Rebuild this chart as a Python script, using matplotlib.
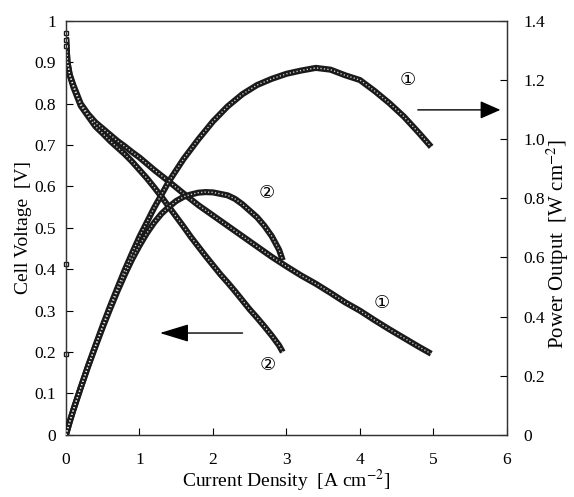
import matplotlib
matplotlib.use("Agg")
import matplotlib.pyplot as plt

plt.rcParams['font.family'] = ['Liberation Serif', 'DejaVu Sans']
plt.rcParams['mathtext.fontset'] = 'stix'

# --- данные ---
current_1 = [0, 0.02, 0.05, 0.1, 0.2, 0.3, 0.4, 0.5, 0.6, 0.7, 0.8, 0.9, 1.0, 1.2, 1.4, 1.6,
             1.8, 2.0, 2.2, 2.4, 2.6, 2.8, 3.0, 3.2, 3.4, 3.6, 3.8, 4.0, 4.2, 4.4, 4.6, 4.8, 4.97]
voltage_1 = [0.96, 0.90, 0.87, 0.845, 0.80, 0.775, 0.755, 0.74, 0.725, 0.71, 0.697, 0.683, 0.67,
             0.64, 0.612, 0.583, 0.555, 0.53, 0.505, 0.48, 0.455, 0.43, 0.407, 0.385, 0.365,
             0.343, 0.32, 0.30, 0.277, 0.255, 0.234, 0.213, 0.196]
power_1 = [0, 0.018, 0.044, 0.085, 0.16, 0.233, 0.302, 0.37, 0.435, 0.497, 0.558, 0.615, 0.67,
           0.768, 0.857, 0.933, 0.999, 1.06, 1.111, 1.152, 1.183, 1.204, 1.221, 1.232, 1.241,
           1.235, 1.216, 1.2, 1.163, 1.122, 1.076, 1.022, 0.974]

current_2 = [0, 0.02, 0.05, 0.1, 0.2, 0.3, 0.4, 0.5, 0.6, 0.7, 0.8, 0.9, 1.0, 1.1, 1.2, 1.3,
             1.4, 1.5, 1.6, 1.7, 1.8, 1.9, 2.0, 2.1, 2.2, 2.3, 2.4, 2.5, 2.6, 2.7, 2.8, 2.9, 2.95]
voltage_2 = [0.96, 0.90, 0.87, 0.84, 0.795, 0.77, 0.745, 0.728, 0.71, 0.694, 0.678, 0.66, 0.64,
             0.62, 0.598, 0.575, 0.551, 0.527, 0.503, 0.478, 0.455, 0.432, 0.41, 0.388, 0.368,
             0.347, 0.325, 0.303, 0.283, 0.262, 0.24, 0.216, 0.2]
power_2 = [0, 0.018, 0.044, 0.084, 0.159, 0.231, 0.298, 0.364, 0.426, 0.486, 0.542, 0.594, 0.64,
           0.682, 0.718, 0.748, 0.771, 0.791, 0.805, 0.813, 0.819, 0.821, 0.82, 0.815, 0.81,
           0.798, 0.78, 0.758, 0.736, 0.707, 0.672, 0.626, 0.59]

# отдельные точки у оси при нулевом токе
stray_current = [0, 0, 0, 0, 0]
stray_voltage = [0.97, 0.955, 0.94, 0.413, 0.196]

x_ticks = [0, 1, 2, 3, 4, 5, 6]
left_ticks = [0, 0.1, 0.2, 0.3, 0.4, 0.5, 0.6, 0.7, 0.8, 0.9, 1.0]
left_labels = ['0', '0.1', '0.2', '0.3', '0.4', '0.5', '0.6', '0.7', '0.8', '0.9', '1']
right_ticks = [0, 0.2, 0.4, 0.6, 0.8, 1.0, 1.2, 1.4]
right_labels = ['0', '0.2', '0.4', '0.6', '0.8', '1.0', '1.2', '1.4']


def chain(ax, x, y):
    # толстая линия + светлый пунктир = цепочка квадратных маркеров
    ax.plot(x, y, color='#1a1a1a', lw=4.4, solid_capstyle='butt', zorder=3)
    ax.plot(x, y, color='white', lw=1.0, linestyle=(0, (0.9, 1.6)), alpha=0.8, zorder=4)


fig = plt.figure(figsize=(5.74, 4.97), dpi=100)
ax = fig.add_axes([0.115, 0.125, 0.768, 0.833])
ax2 = ax.twinx()

chain(ax, current_1, voltage_1)
chain(ax, current_2, voltage_2)
chain(ax2, current_1, power_1)
chain(ax2, current_2, power_2)
ax.plot(stray_current, stray_voltage, 's', ms=3.5, mfc='white', mec='#1a1a1a', mew=1.0,
        clip_on=False, zorder=5)

ax.set_xlim(0, 6)
ax.set_ylim(0, 1)
ax2.set_ylim(0, 1.4)

ax.set_xticks(x_ticks)
ax.set_xticklabels([str(t) for t in x_ticks])
ax.set_yticks(left_ticks)
ax.set_yticklabels(left_labels)
ax2.set_yticks(right_ticks)
ax2.set_yticklabels(right_labels)

for a in (ax, ax2):
    a.tick_params(direction='in', length=5, width=0.8, labelsize=12.5, pad=7)
    for s in a.spines.values():
        s.set_linewidth(0.9)
        s.set_color('#333333')
ax.tick_params(axis='x', pad=12)
ax2.tick_params(axis='y', pad=12)

ax.set_xlabel('Current Density  [A cm$^{-2}$]', fontsize=14, labelpad=0)
ax.set_ylabel('Cell Voltage  [V]', fontsize=14, labelpad=2)
fig.text(558 / 574, 1 - 244 / 497, 'Power Output  [W cm$^{-2}$]', fontsize=15,
         rotation=90, ha='center', va='center')

circ = ['DejaVu Sans']
ax.text(4.65, 0.857, '\u2460', family=circ, fontsize=13, ha='center', va='center')
ax.text(4.3, 0.318, '\u2460', family=circ, fontsize=13, ha='center', va='center')
ax.text(2.73, 0.585, '\u2461', family=circ, fontsize=13, ha='center', va='center')
ax.text(2.75, 0.169, '\u2461', family=circ, fontsize=13, ha='center', va='center')

ax.annotate('', xy=(1.24, 0.246), xytext=(2.44, 0.246),
            arrowprops=dict(arrowstyle='-|>,head_length=1.8,head_width=0.55',
                            color='black', lw=1.0))
ax.annotate('', xy=(5.95, 0.785), xytext=(4.75, 0.785),
            arrowprops=dict(arrowstyle='-|>,head_length=1.25,head_width=0.55',
                            color='black', lw=1.0))

fig.savefig('out.png', dpi=100)
